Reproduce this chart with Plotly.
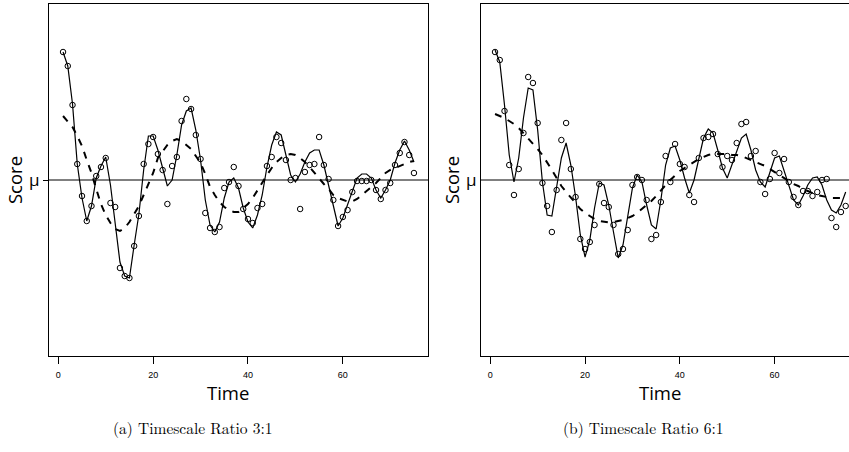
import plotly.graph_objects as go

# ---------------- data ----------------
time_a = list(range(1, 76))
time_b = list(range(1, 76))
MU = 0.0

obs_a = [12.8, 11.4, 7.5, 1.6, -1.6, -4.1, -2.6, 0.4, 1.3, 2.2,
         -2.3, -2.7, -8.8, -9.6, -9.8, -6.6, -3.6, 1.6, 3.6, 4.3,
         2.6, 1.0, -2.4, 1.4, 2.3, 5.9, 8.1, 7.1, 4.5, 2.1,
         -3.3, -4.8, -5.2, -4.7, -0.8, -0.2, 1.3, -0.6, -2.9, -3.9,
         -4.3, -2.8, -2.4, 1.4, 2.3, 4.3, 3.7, 2.0, 0.0, 0.2,
         -2.9, 0.8, 1.5, 1.6, 4.3, 1.5, 0.1, -2.0, -4.6, -3.7,
         -3.0, -1.2, -0.1, -0.1, -0.1, 0.0, -1.0, -1.9, -1.0, -0.3,
         1.5, 2.7, 3.8, 2.5, 0.7]
fast_a = [12.8, 11.4, 7.6, 1.6, -1.8, -4.1, -2.6, 0.2, 1.4, 2.3,
          -0.5, -4.5, -8.2, -9.6, -9.8, -6.5, -3.4, 1.0, 4.4, 4.4,
          3.0, 1.2, -0.6, 0.0, 2.5, 5.5, 6.9, 7.2, 5.0, 2.0,
          -2.0, -4.5, -5.2, -4.2, -1.8, -0.2, 0.2, -0.8, -2.8, -4.2,
          -4.8, -3.5, -1.5, 1.3, 3.5, 4.8, 4.5, 2.5, 0.5, -0.2,
          0.6, 1.8, 2.7, 3.0, 3.0, 1.5, -0.5, -2.7, -4.6, -3.8,
          -2.5, -1.0, 0.2, 0.6, 0.6, 0.2, -1.0, -1.8, -1.0, 0.0,
          1.7, 3.0, 3.9, 3.0, 1.8]
slow_a = [6.4, 5.9, 5.3, 4.4, 3.4, 2.0, 0.7, -0.9, -2.4, -3.5,
          -4.3, -4.9, -5.1, -4.8, -4.2, -3.4, -2.6, -1.5, -0.4, 0.7,
          2.2, 2.9, 3.5, 3.9, 4.1, 3.9, 3.5, 3.1, 2.4, 1.7,
          0.6, -0.7, -1.5, -2.2, -2.7, -3.0, -3.2, -3.2, -2.8, -2.4,
          -1.8, -1.0, -0.3, 0.5, 1.2, 1.8, 2.2, 2.5, 2.6, 2.5,
          2.2, 1.8, 1.3, 0.7, 0.1, -0.4, -0.9, -1.5, -1.8, -2.0,
          -2.15, -2.15, -1.9, -1.5, -1.1, -0.7, -0.3, 0.2, 0.7, 1.0,
          1.2, 1.4, 1.6, 1.8, 1.9]

obs_b = [12.8, 12.0, 6.9, 1.5, -1.5, 1.1, 4.7, 10.3, 9.7, 5.7,
         -0.3, -2.6, -5.2, -1.0, 4.0, 5.7, 1.1, -1.7, -5.9, -6.9,
         -6.2, -4.5, -0.4, -2.3, -2.7, -4.5, -7.4, -6.9, -5.0, -0.5,
         0.3, 0.0, -2.0, -5.9, -5.5, -2.2, 2.4, -0.2, 3.6, 1.6,
         1.3, -1.5, -2.2, 2.2, 4.2, 4.3, 4.6, 2.6, 1.3, 2.4,
         2.0, 3.7, 5.6, 5.8, 2.4, 2.9, -0.2, -1.4, 0.1, 2.7,
         0.7, 2.1, -0.2, -1.7, -2.5, -1.1, -1.1, -1.6, -1.2, 0.0,
         0.1, -3.8, -4.7, -3.2, -2.6]
fast_b = [13.0, 11.8, 7.5, 2.5, -0.2, 2.2, 6.2, 9.2, 9.0, 5.0,
          -0.2, -3.5, -3.6, -0.5, 2.2, 3.7, 1.5, -1.7, -5.5, -7.7,
          -6.0, -2.8, -0.3, -0.5, -2.5, -5.2, -7.8, -6.5, -3.5, -0.8,
          0.5, -0.2, -2.5, -4.5, -4.9, -2.0, 1.5, 3.2, 3.4, 2.0,
          0.2, -1.3, 0.0, 2.0, 4.2, 5.1, 4.7, 3.0, 1.2, 0.2,
          1.5, 3.0, 4.2, 4.6, 3.0, 1.0, -0.2, -0.7, 0.8, 2.2,
          2.4, 1.0, -0.5, -2.0, -2.5, -1.6, -0.5, 0.2, 0.3, -0.5,
          -2.0, -3.0, -3.3, -2.5, -1.2]
slow_b = [6.6, 6.4, 6.2, 5.9, 5.6, 5.2, 4.7, 4.2, 3.7, 3.1,
          2.5, 1.8, 1.0, 0.2, -0.6, -1.2, -1.7, -2.3, -2.9, -3.3,
          -3.6, -3.9, -4.1, -4.2, -4.25, -4.2, -4.1, -4.0, -3.8, -3.6,
          -3.3, -2.9, -2.5, -2.1, -1.6, -1.0, -0.5, 0.0, 0.5, 0.9,
          1.2, 1.5, 1.8, 2.1, 2.3, 2.5, 2.6, 2.6, 2.6, 2.6,
          2.5, 2.5, 2.4, 2.2, 2.0, 1.8, 1.6, 1.4, 1.1, 0.8,
          0.5, 0.2, -0.1, -0.4, -0.6, -0.9, -1.1, -1.3, -1.5, -1.6,
          -1.7, -1.8, -1.8, -1.8, -1.8]

x_ticks = [0, 20, 40, 60]
x_tick_labels = ["0", "20", "40", "60"]
y_tick_label = "μ"
x_title = "Time"
y_title = "Score"
captions = ["(a) Timescale Ratio 3:1", "(b) Timescale Ratio 6:1"]

# ---------------- figure ----------------
W, H = 849, 452
fig = go.Figure()

def add_panel(t, obs, fast, slow, xa, ya):
    fig.add_trace(go.Scatter(x=t, y=slow, mode="lines", xaxis=xa, yaxis=ya,
                             line=dict(color="black", width=2, dash="7px,7px"),
                             showlegend=False, hoverinfo="skip"))
    fig.add_trace(go.Scatter(x=t, y=fast, mode="lines", xaxis=xa, yaxis=ya,
                             line=dict(color="black", width=1.2),
                             showlegend=False, hoverinfo="skip"))
    fig.add_trace(go.Scatter(x=t, y=obs, mode="markers", xaxis=xa, yaxis=ya,
                             marker=dict(symbol="circle-open", size=5.5,
                                         color="black", line=dict(width=1)),
                             showlegend=False))

add_panel(time_a, obs_a, fast_a, slow_a, "x", "y")
add_panel(time_b, obs_b, fast_b, slow_b, "x2", "y2")

for xr, yr in (("x domain", "y"), ("x2 domain", "y2")):
    fig.add_shape(type="line", xref=xr, yref=yr, x0=0, x1=1, y0=MU, y1=MU,
                  line=dict(color="black", width=1), layer="above")

tick_font = dict(family="Liberation Sans Narrow, Liberation Sans, Arial", size=9, color="black")
title_font = dict(family="Open Sans, DejaVu Sans", size=18.5, color="black")

def xaxis(domain, rng):
    return dict(domain=domain, range=rng, showline=True, mirror=True, automargin=False,
                linecolor="black", linewidth=1, showgrid=False, zeroline=False,
                tickmode="array", tickvals=x_ticks, ticktext=x_tick_labels,
                ticks="outside", ticklen=7, tickcolor="black", tickwidth=1,
                tickfont=tick_font, ticklabelstandoff=3)

def yaxis(anchor, mirror, ticklen):
    return dict(domain=[1 - 356 / H, 1 - 4 / H], range=[-17.6, 17.6], anchor=anchor,
                automargin=False,
                showline=True, mirror=mirror, linecolor="black", linewidth=1,
                showgrid=False, zeroline=False,
                tickmode="array", tickvals=[MU], ticktext=[y_tick_label],
                ticks="outside", ticklen=ticklen, tickcolor="black",
                tickfont=dict(family="Open Sans, DejaVu Sans", size=17, color="black"),
                title=dict(text=y_title, font=title_font, standoff=1))

fig.update_layout(
    width=W, height=H,
    margin=dict(l=0, r=0, t=0, b=0, autoexpand=False),
    paper_bgcolor="white", plot_bgcolor="white",
    xaxis=xaxis([49 / W, 428 / W], [-1.96, 77.96]) | dict(anchor="y"),
    xaxis2=xaxis([481 / W, 1.0], [-1.96, 75.7]) | dict(anchor="y2"),
    yaxis=yaxis("x", True, 5),
    yaxis2=yaxis("x2", False, 0),
)

for cx in (228, 660):
    fig.add_annotation(text=x_title, xref="paper", yref="paper", x=cx / W, y=1 - 392 / H,
                       xanchor="center", yanchor="middle", showarrow=False,
                       font=title_font)

for cap, cx in zip(captions, [193, 643]):
    fig.add_annotation(text=cap, xref="paper", yref="paper", x=cx / W, y=1 - 427 / H,
                       xanchor="center", yanchor="middle", showarrow=False,
                       font=dict(family="Latin Modern Roman, CMU Serif, Liberation Serif, serif",
                                 size=15.5, color="black"))

fig.write_html("out.html", config={"displayModeBar": False},
               post_script="document.body.style.margin='0';document.body.style.overflow='hidden';")
